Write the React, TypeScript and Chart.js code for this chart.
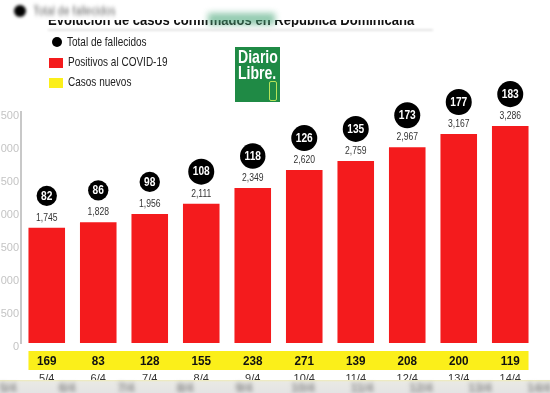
import React, { useEffect, useRef } from "react";
import { Chart, registerables } from "chart.js";

Chart.register(...registerables);

const dates = ["5/4", "6/4", "7/4", "8/4", "9/4", "10/4", "11/4", "12/4", "13/4", "14/4"];
const positivos = [1745, 1828, 1956, 2111, 2349, 2620, 2759, 2967, 3167, 3286];
const fallecidos = [82, 86, 98, 108, 118, 126, 135, 173, 177, 183];
const casosNuevos = [169, 83, 128, 155, 238, 271, 139, 208, 200, 119];
const yMax = 3500;
const yStep = 500;

const FONT = "'Liberation Sans', Arial, sans-serif";
const RED = "#f41b1d";
const YELLOW = "#fbef1a";

function condensedText(ctx: CanvasRenderingContext2D, text: string, x: number, y: number, sx: number) {
  ctx.save();
  ctx.translate(x, y);
  ctx.scale(sx, 1);
  ctx.fillText(text, 0, 0);
  ctx.restore();
}

const overlayPlugin = {
  id: "overlay",
  afterDraw(chart: any) {
    const ctx = chart.ctx as CanvasRenderingContext2D;
    const meta = chart.getDatasetMeta(0);
    const area = chart.chartArea;
    ctx.save();
    ctx.textAlign = "center";
    ctx.textBaseline = "middle";
    meta.data.forEach((bar: any, i: number) => {
      const { x, y } = bar.getProps(["x", "y"], true);
      ctx.fillStyle = "#333";
      ctx.font = `11px ${FONT}`;
      condensedText(ctx, positivos[i].toLocaleString("en-US"), x, y - 10, 0.78);
      const label = String(fallecidos[i]);
      ctx.font = `bold 12px ${FONT}`;
      const w = ctx.measureText(label).width * 0.85;
      const r = Math.max(10, w / 2 + 4.5);
      ctx.beginPath();
      ctx.arc(x, y - 32, r, 0, Math.PI * 2);
      ctx.fillStyle = "#000";
      ctx.fill();
      ctx.fillStyle = "#fff";
      condensedText(ctx, label, x, y - 31.5, 0.85);
    });
    const first = meta.data[0];
    const last = meta.data[meta.data.length - 1];
    const left = first.x - first.width / 2;
    const right = last.x + last.width / 2;
    const top = area.bottom + 8;
    ctx.fillStyle = YELLOW;
    ctx.fillRect(left, top, right - left, 19);
    ctx.fillStyle = "#111";
    ctx.font = `bold 13px ${FONT}`;
    meta.data.forEach((bar: any, i: number) => {
      condensedText(ctx, String(casosNuevos[i]), bar.x, top + 10, 0.9);
    });
    ctx.restore();
  },
};

function ChartCanvas() {
  const ref = useRef<HTMLCanvasElement>(null);
  useEffect(() => {
    if (!ref.current) return;
    const chart = new Chart(ref.current, {
      type: "bar",
      data: {
        labels: dates,
        datasets: [
          {
            label: "Positivos al COVID-19",
            data: positivos,
            backgroundColor: RED,
            borderWidth: 0,
            categoryPercentage: 1,
            barPercentage: 0.71,
          },
        ],
      },
      options: {
        animation: false,
        responsive: false,
        devicePixelRatio: 1,
        layout: { padding: { top: 112, right: 1, left: 0, bottom: 0 } },
        plugins: { legend: { display: false }, tooltip: { enabled: false } },
        scales: {
          x: {
            grid: { display: false, drawTicks: false },
            border: { display: false },
            ticks: { color: "#333", font: { size: 11, family: FONT }, padding: 29 },
            afterFit: (s: any) => {
              s.height = 50;
            },
          },
          y: {
            min: 0,
            max: yMax,
            ticks: { stepSize: yStep, color: "#c4c4c4", font: { size: 11, family: FONT }, padding: 2, labelOffset: 4 },
            grid: { display: false, drawTicks: false },
            border: { display: true, color: "#c8c8c8", width: 2 },
            afterFit: (s: any) => {
              s.width = 21;
            },
          },
        },
      },
      plugins: [overlayPlugin],
    });
    return () => chart.destroy();
  }, []);
  return <canvas ref={ref} width={550} height={393} style={{ position: "absolute", left: 0, top: 0 }} />;
}

const abs = (s: React.CSSProperties): React.CSSProperties => ({ position: "absolute", ...s });
const cond = (sx: number): React.CSSProperties => ({ transform: `scaleX(${sx})`, transformOrigin: "left center", whiteSpace: "nowrap" });

export default function App() {
  return (
    <div style={{ position: "fixed", left: 0, top: 0, width: 550, height: 393, background: "#fff", overflow: "hidden", fontFamily: FONT }}>
      <ChartCanvas />
      {/* blurred top strip */}
      <div style={abs({ left: 14, top: 5, width: 12, height: 12, borderRadius: 6, background: "#000", filter: "blur(1.5px)" })} />
      <div style={abs({ left: 33, top: 3, fontSize: 13, color: "#666", filter: "blur(2px)", ...cond(0.8) })}>Total de fallecidos</div>
      <div style={abs({ left: 48, top: 20, height: 7, width: 390, overflow: "hidden" })}>
        <div style={{ marginTop: -8, fontSize: 15, lineHeight: "15px", fontWeight: "bold", color: "#111", filter: "blur(0.6px)", ...cond(0.87) }}>
          Evolución de casos confirmados en República Dominicana
        </div>
      </div>
      <div style={abs({ left: 208, top: 13, width: 67, height: 12, background: "#4aa77a", opacity: 0.6, filter: "blur(3px)" })} />
      <div style={abs({ left: 48, top: 29, width: 385, height: 2, background: "#e4e4e4", filter: "blur(1px)" })} />
      {/* legend */}
      <div style={abs({ left: 52, top: 37, width: 10, height: 10, borderRadius: 5, background: "#000" })} />
      <div style={abs({ left: 67, top: 34, fontSize: 13, color: "#222", ...cond(0.77) })}>Total de fallecidos</div>
      <div style={abs({ left: 49, top: 58, width: 14, height: 10, background: RED })} />
      <div style={abs({ left: 68, top: 54, fontSize: 13, color: "#222", ...cond(0.77) })}>Positivos al COVID-19</div>
      <div style={abs({ left: 49, top: 78, width: 14, height: 10, background: YELLOW })} />
      <div style={abs({ left: 68, top: 74, fontSize: 13, color: "#222", ...cond(0.77) })}>Casos nuevos</div>
      {/* logo */}
      <div style={abs({ left: 235, top: 47, width: 45, height: 55, background: "#1f8a45", overflow: "hidden" })}>
        <div style={abs({ left: 3, top: 1, fontSize: 19, lineHeight: "18px", fontWeight: "bold", color: "#fff", ...cond(0.74) })}>Diario</div>
        <div style={abs({ left: 3, top: 17, fontSize: 19, lineHeight: "18px", fontWeight: "bold", color: "#fff", ...cond(0.74) })}>Libre.</div>
        <div style={abs({ left: 34, top: 34, width: 6, height: 18, border: "1px solid #b6e35a", borderRadius: 2 })} />
      </div>
      {/* bottom blurred strip */}
      <div style={abs({ left: 0, top: 380, width: 550, height: 13, background: "linear-gradient(#eeeab8 0px, #e9e9e4 2px, #e4e4e4 13px)" })} />
      {dates.map((d, i) => (
        <div key={d} style={abs({ left: 8 + 59 * i - 15, top: 381, width: 30, textAlign: "center", fontSize: 12, fontWeight: "bold", color: "#888", filter: "blur(2px)" })}>
          {d}
        </div>
      ))}
    </div>
  );
}
